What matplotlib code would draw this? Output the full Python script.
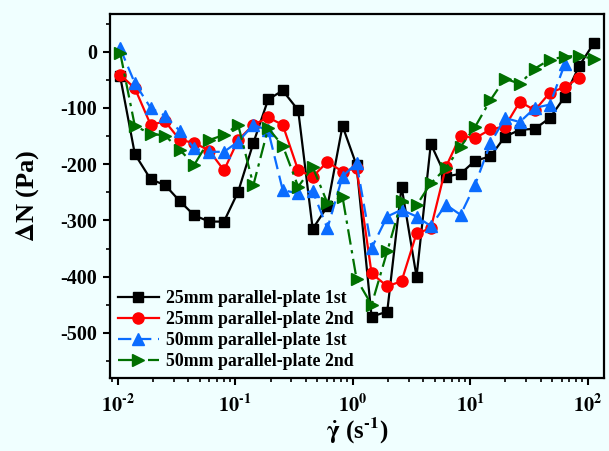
import math
import matplotlib
matplotlib.use("Agg")
from matplotlib import pyplot as plt
from matplotlib.ticker import MultipleLocator, LogLocator, NullFormatter, FuncFormatter

plt.rcParams["font.family"] = "serif"
plt.rcParams["font.serif"] = ["Liberation Serif", "DejaVu Serif"]
plt.rcParams["font.weight"] = "bold"
plt.rcParams["mathtext.fontset"] = "stix"
plt.rcParams["mathtext.default"] = "bf"
plt.rcParams["axes.unicode_minus"] = False

BG = "#f0ffff"

shear_rate = [0.0105, 0.0140, 0.0191, 0.0253, 0.0339, 0.0449, 0.0602, 0.0803,
              0.106, 0.143, 0.191, 0.254, 0.344, 0.457, 0.61, 0.82,
              1.08, 1.45, 1.97, 2.61, 3.5, 4.63, 6.22, 8.3,
              11.0, 14.9, 19.8, 26.5, 35.6, 47.7, 64.0, 85.0, 113.0]

dn_25_1st = [-44, -182, -227, -237, -266, -291, -302, -302,
             -249, -162, -85, -69, -104, -315, -275, -132,
             -202, -471, -462, -240, -400, -164, -222, -217,
             -194, -186, -151, -139, -137, -118, -80, -25, 15]

dn_25_2nd = [-41, -65, -130, -124, -157, -162, -176, -211,
             -157, -130, -117, -130, -211, -222, -196, -213,
             -207, -394, -417, -408, -323, -314, -205, -149,
             -154, -138, -133, -89, -104, -73, -63, -46]

dn_50_1st = [6, -56, -100, -114, -141, -172, -178, -178,
             -160, -130, -140, -246, -252, -248, -314, -222,
             -198, -349, -293, -281, -293, -310, -272, -290,
             -237, -163, -118, -125, -100, -94, -22]

dn_50_2nd = [-2, -132, -146, -149, -175, -201, -157, -148,
             -130, -237, -136, -167, -240, -205, -269, -258,
             -404, -450, -355, -266, -273, -234, -207, -169,
             -134, -86, -48, -57, -30, -14, -9, -7, -13]

labels = ["25mm parallel-plate 1st", "25mm parallel-plate 2nd",
          "50mm parallel-plate 1st", "50mm parallel-plate 2nd"]


def decade_label(v, pos):
    # plain hyphen in the exponent instead of a minus sign
    e = int(round(math.log10(v)))
    if e < 0:
        return r"$10^{\text{-}%d}$" % (-e)
    return r"$10^{%d}$" % e


fig = plt.figure(figsize=(6.09, 4.51), dpi=100, facecolor=BG)
ax = fig.add_axes([0.1806, 0.1619, 0.8112, 0.8071], facecolor=BG)

ax.plot(shear_rate[:len(dn_25_1st)], dn_25_1st, color="black", marker="s",
        markersize=7, lw=1.6, mec="black", label=labels[0])
ax.plot(shear_rate[:len(dn_25_2nd)], dn_25_2nd, color="#ff0000", marker="o",
        markersize=8, lw=1.6, mec="#ff0000", label=labels[1])
ax.plot(shear_rate[:len(dn_50_1st)], dn_50_1st, color="#0a6cff", marker="^",
        markersize=9, lw=1.6, mec="#0a6cff", dashes=(6, 3), label=labels[2])
ax.plot(shear_rate[:len(dn_50_2nd)], dn_50_2nd, color="#007000", marker=">",
        markersize=9, lw=1.6, mec="#007000", dashes=(7, 2.5, 1.5, 2.5), label=labels[3])

ax.set_xscale("log")
ax.set_xlim(0.0086, 138)
ax.set_ylim(-580, 67)

ax.yaxis.set_major_locator(MultipleLocator(100))
ax.yaxis.set_minor_locator(MultipleLocator(50))
ax.xaxis.set_major_locator(LogLocator(base=10, numticks=10))
ax.xaxis.set_major_formatter(FuncFormatter(decade_label))
ax.xaxis.set_minor_locator(LogLocator(base=10, subs=range(2, 10), numticks=50))
ax.xaxis.set_minor_formatter(NullFormatter())

for side in ["left", "bottom", "right", "top"]:
    ax.spines[side].set_linewidth(1.6)
ax.tick_params(which="major", direction="out", length=5, width=1.5, labelsize=14.5)
ax.tick_params(axis="y", which="major", pad=4)
ax.tick_params(axis="x", which="major", pad=7)
ax.tick_params(which="minor", direction="out", length=3, width=1.2)
ax.tick_params(top=False, right=False)

ax.set_xlabel(r"$\dot{\gamma}$ (s$^{\text{-}1}$)", fontsize=18, fontweight="bold", labelpad=-1)
ax.set_ylabel(r"$\Delta$N (Pa)", fontsize=19, fontweight="bold", labelpad=14)

leg = ax.legend(loc="lower left", frameon=False, handlelength=2.3,
                handletextpad=0.4, labelspacing=0.22, borderaxespad=0.25,
                borderpad=0.2, prop={"weight": "bold", "size": 12.8})

fig.savefig("out.png", dpi=100, facecolor=BG)
